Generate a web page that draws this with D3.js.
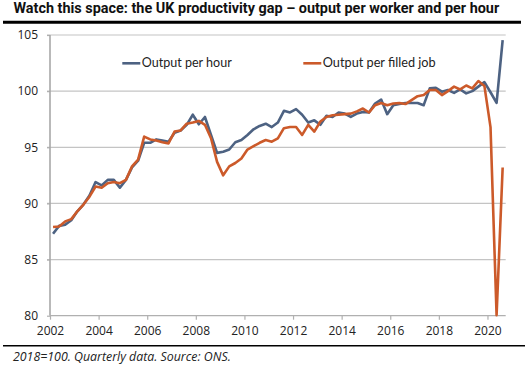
<!DOCTYPE html>
<html><head><meta charset="utf-8">
<script src="https://cdn.jsdelivr.net/npm/d3@7"></script>
<style>body{margin:0;background:#fff}svg{display:block}</style>
</head><body>
<script>
const title = "Watch this space: the UK productivity gap \u2013 output per worker and per hour";
const footnote = "2018=100. Quarterly data. Source: ONS.";
const seriesNames = ["Output per hour", "Output per filled job"];
const startYear = 2002;
const tickYears = [2002, 2004, 2006, 2008, 2010, 2012, 2014, 2016, 2018, 2020];
const yTicks = [80, 85, 90, 95, 100, 105];
// quarterly 2002Q1 .. 2020Q3
const perHour = [87.3, 88.0, 88.1, 88.5, 89.3, 89.9, 90.7, 91.9, 91.6, 92.1, 92.1, 91.4,
  92.1, 93.2, 93.8, 95.4, 95.4, 95.7, 95.6, 95.5, 96.3, 96.5, 97.0, 97.9,
  97.05, 97.7, 96.1, 94.5, 94.6, 94.8, 95.45, 95.65, 96.1, 96.6, 96.9, 97.1,
  96.8, 97.2, 98.25, 98.1, 98.4, 97.9, 97.2, 97.4, 97.0, 97.8, 97.7, 98.1,
  98.0, 97.7, 98.0, 98.15, 98.1, 98.9, 99.25, 97.95, 98.75, 98.85, 98.95, 98.95,
  98.95, 98.75, 100.25, 100.3, 99.95, 100.1, 99.85, 100.15, 99.8, 100.0, 100.4, 100.8,
  99.9, 98.95, 104.55];
const perJob = [87.9, 87.95, 88.4, 88.6, 89.3, 89.9, 90.6, 91.5, 91.4, 91.8, 91.9, 91.8,
  92.1, 93.3, 93.9, 95.95, 95.7, 95.6, 95.45, 95.35, 96.4, 96.5, 97.1, 97.2,
  97.35, 97.0, 95.8, 93.7, 92.5, 93.3, 93.6, 94.0, 94.8, 95.1, 95.4, 95.65,
  95.5, 95.8, 96.7, 96.8, 96.8, 96.1, 97.0, 96.4, 97.3, 97.7, 97.85, 97.9,
  97.95, 98.0, 98.2, 98.45, 98.1, 98.75, 98.95, 98.75, 98.9, 98.95, 98.85, 99.2,
  99.55, 99.65, 100.1, 100.1, 99.65, 100.0, 100.4, 100.15, 100.5, 100.25, 100.9, 100.45,
  96.8, 80.05, 93.2];
const colors = ["#4d6282", "#cc5a2a"];

const W = 529, H = 366;
const svg = d3.select("body").append("svg").attr("width", W).attr("height", H);

const x = d3.scaleLinear().domain([0, perHour.length]).range([50, 505.7]);
const y = d3.scaleLinear().domain([80, 105]).range([315.7, 35]);

function fit(sel, target) {
  const fs = parseFloat(sel.attr("font-size"));
  const w = sel.node().getComputedTextLength();
  sel.attr("font-size", fs * target / w);
}

// title
const t = svg.append("text").attr("x", 13.5).attr("y", 13).attr("font-family", "Roboto")
  .attr("font-weight", 700).attr("font-size", 13).attr("fill", "#111").text(title);
fit(t, 486);
svg.append("line").attr("x1", 3).attr("x2", 521).attr("y1", 22.3).attr("y2", 22.3)
  .attr("stroke", "#000").attr("stroke-width", 3);

// gridlines
svg.append("g").selectAll("line").data(yTicks.filter(d => d > 80)).join("line")
  .attr("x1", 47).attr("x2", 505.7).attr("y1", d => y(d)).attr("y2", d => y(d))
  .attr("stroke", "#c4c4c4").attr("stroke-width", 1.2);

// y axis
const ya = svg.append("g").attr("transform", "translate(50,0)")
  .call(d3.axisLeft(y).tickValues(yTicks).tickSize(3).tickPadding(9).tickFormat(d3.format("d")));
ya.select(".domain").remove();
ya.selectAll(".tick line").attr("stroke", "#b0b0b0").attr("stroke-width", 1.2);
ya.selectAll("text").attr("font-family", "Open Sans").attr("font-size", 12).attr("fill", "#222");
svg.append("line").attr("x1", 50).attr("x2", 50).attr("y1", y(105)).attr("y2", y(80))
  .attr("stroke", "#a8a8a8").attr("stroke-width", 1.6);

// x axis
const xa = svg.append("g").attr("transform", `translate(0,${y(80)})`)
  .call(d3.axisBottom(x).tickValues(tickYears.map(v => (v - startYear) * 4))
    .tickSize(4).tickPadding(7).tickFormat(d => startYear + d / 4));
xa.select(".domain").attr("stroke", "#b0b0b0").attr("stroke-width", 1.2)
  .attr("d", `M${x(0)},0H${x(perHour.length)}`);
xa.selectAll(".tick line").attr("stroke", "#b0b0b0").attr("stroke-width", 1.2);
xa.selectAll("text").attr("font-family", "Open Sans").attr("font-size", 12).attr("fill", "#222");

// lines
const line = d3.line().x((d, i) => x(i + 0.5)).y(d => y(d));
[perHour, perJob].forEach((s, k) => {
  svg.append("path").datum(s).attr("d", line).attr("fill", "none")
    .attr("stroke", colors[k]).attr("stroke-width", 2.6).attr("stroke-linejoin", "round");
});

// legend
const legX = [122.3, 303.3], legW = [90, 113];
seriesNames.forEach((n, k) => {
  svg.append("line").attr("x1", legX[k]).attr("x2", legX[k] + 18).attr("y1", 63.3).attr("y2", 63.3)
    .attr("stroke", colors[k]).attr("stroke-width", 2.6);
  const lt = svg.append("text").attr("x", legX[k] + 19.5).attr("y", 67.3)
    .attr("font-family", "Lato").attr("font-size", 13).attr("fill", "#222").text(n);
  fit(lt, legW[k]);
});

// footer
svg.append("line").attr("x1", 3).attr("x2", 525).attr("y1", 345.7).attr("y2", 345.7)
  .attr("stroke", "#000").attr("stroke-width", 1.5);
const f = svg.append("text").attr("x", 13).attr("y", 361).attr("font-family", "Open Sans")
  .attr("font-style", "italic").attr("font-size", 12).attr("fill", "#222").text(footnote);
fit(f, 218);
</script>
</body></html>
